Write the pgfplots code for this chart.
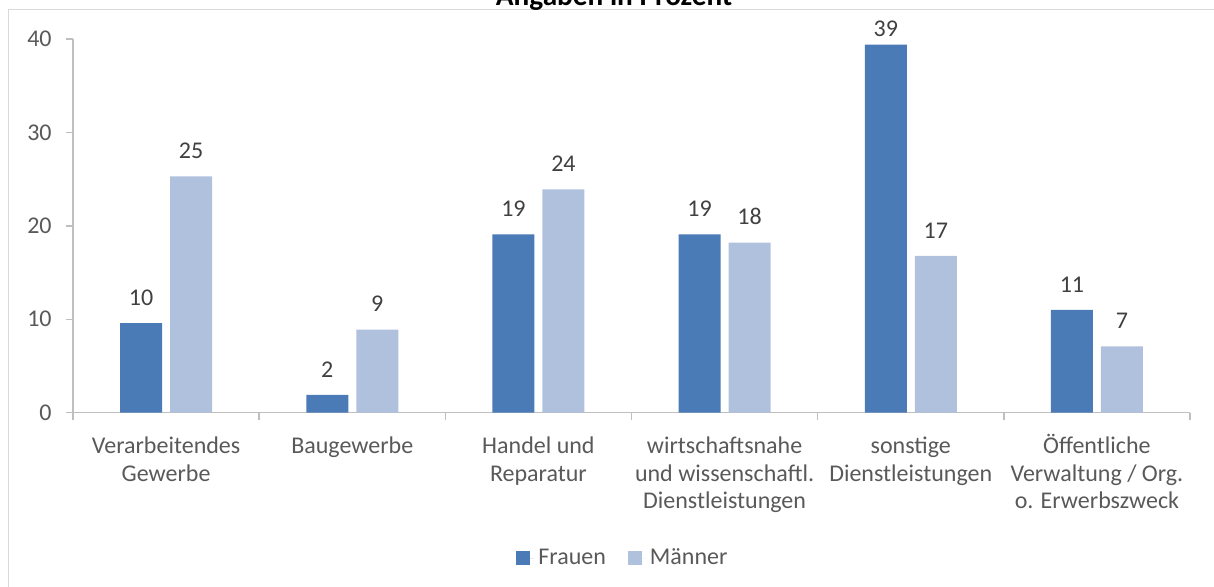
\documentclass[border=0pt]{standalone}
\usepackage{fontspec}
\setmainfont{Carlito}
\usepackage{pgfplots}
\pgfplotsset{compat=1.18}
\definecolor{fr}{HTML}{4A7BB7}
\definecolor{ma}{HTML}{B0C1DD}
\definecolor{axg}{HTML}{BFBFBF}
\definecolor{brd}{HTML}{D9D9D9}
\definecolor{txt}{HTML}{595959}
\definecolor{lab}{HTML}{404040}
\begin{document}
\begin{tikzpicture}
\begin{scope}[x=0.5pt,y=-0.5pt]
\useasboundingbox (0,0) rectangle (1214,586);
\draw[brd, line width=0.75pt] (8.5,600) -- (8.5,9.5) -- (1230,9.5);
\node[font=\fontsize{14.65}{17}\selectfont\bfseries, anchor=base, inner sep=0pt] at (614,5) {Angaben in Prozent};
\end{scope}
\begin{axis}[
  at={(36.5pt,-206.35pt)}, anchor=south west,
  scale only axis, width=558.5pt, height=186.85pt,
  xmin=-0.5, xmax=5.5, ymin=0, ymax=40,
  axis x line*=bottom, axis y line*=left,
  axis line style={draw=axg, line width=0.75pt, -},
  ybar, bar width=21pt,
  ytick={0,10,20,30,40},
  /pgf/number format/assume math mode=true,
  xtick={0,...,5},
  xticklabels={{Verarbeitendes\\Gewerbe},{Baugewerbe},{Handel und\\Reparatur},{wirtschaftsnahe\\und wissenschaftl.\\Dienstleistungen},{sonstige\\Dienstleistungen},{\smash{Ö}ffentliche\\Verwaltung / Org.\\o. Erwerbszweck}},
  minor xtick={-0.5,0.5,...,5.5},
  major tick length=3.5pt, minor tick length=3.5pt,
  tick align=outside,
  major x tick style={draw=none},
  minor x tick style={draw=axg, line width=0.75pt},
  ytick style={draw=axg, line width=0.75pt},
  xticklabel style={font=\fontsize{12}{13.7}\selectfont, text=txt, align=center, anchor=north, inner sep=0pt, yshift=-8.6pt},
  yticklabel style={font=\fontsize{12}{14}\selectfont, text=txt, anchor=east, inner sep=0pt, xshift=-7pt},
  point meta=explicit symbolic,
  nodes near coords,
  every node near coord/.append style={font=\fontsize{12}{14}\selectfont, text=lab, anchor=base, inner sep=0pt, yshift=8.85pt},
  legend style={at={(0.4932,-0.39)}, anchor=center, draw=none, fill=none, font=\fontsize{12}{14}\selectfont, text=txt, legend columns=2, /tikz/every even column/.append style={column sep=9pt}, inner sep=0pt},
  legend image code/.code={\path (0pt,0pt) -- (9pt,0pt); \fill[#1] (0pt,-3.5pt) rectangle (7pt,3.5pt);},
  legend cell align=left,
]
\addplot[fill=fr, draw=none, bar shift=-12.5pt] coordinates {
  (0,9.6)[10] (1,1.9)[2] (2,19.1)[19] (3,19.1)[19] (4,39.4)[\raisebox{-4.85pt}{39}] (5,11.0)[11]};
\addlegendentry{Frauen}
\addplot[fill=ma, draw=none, bar shift=12.5pt] coordinates {
  (0,25.3)[25] (1,8.9)[9] (2,23.9)[24] (3,18.2)[18] (4,16.8)[17] (5,7.1)[7]};
\addlegendentry{Männer}
\end{axis}
\end{tikzpicture}
\end{document}
